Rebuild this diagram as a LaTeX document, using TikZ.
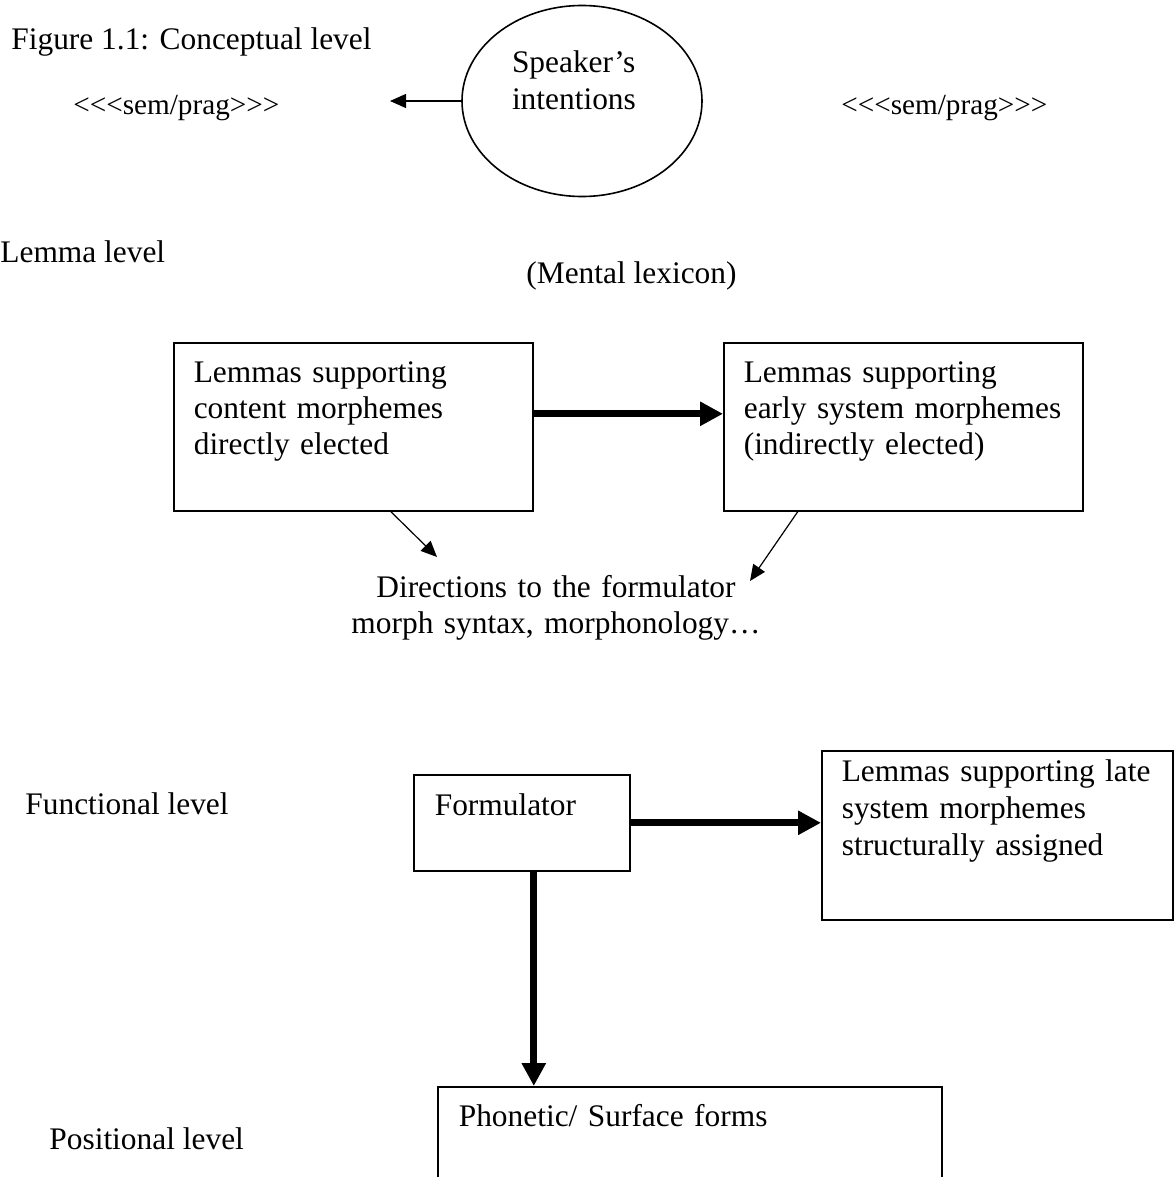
\documentclass[tikz,border=0pt]{standalone}
\usepackage{fontspec}
\setmainfont{Liberation Serif}[Ligatures=TeXOff]
\usetikzlibrary{arrows.meta,positioning,shapes.geometric}

\tikzset{
  lembox/.style={draw, line width=0.8pt, rectangle, anchor=north west, align=left, inner ysep=0pt, inner xsep=10pt},
  bigarrow/.style={line width=3.5pt, -{Triangle[length=11.5pt,width=11.5pt]}},
  smallarrow/.style={line width=0.6pt, -{Triangle[length=8pt,width=7pt]}},
  lbl/.style={inner sep=0pt, anchor=base west}
}

\begin{document}
\begin{tikzpicture}[x=0.5pt, y=-0.5pt, font=\fontsize{15.7}{18}\selectfont]
  \useasboundingbox (0,0) rectangle (1173,1177);
  % conceptual level
  \node[lbl] (cap) at (11,50) {Figure 1.1: Conceptual level};
  \node[ellipse, draw, line width=0.8pt, minimum width=120pt, minimum height=95.5pt, inner sep=1pt,
        text width=70pt, align=left, text height=12pt, text depth=40pt,
        font=\fontsize{15.7}{18.5}\selectfont] (spk) at (582,101) {Speaker’s\\intentions};
  \begin{scope}[every node/.style={lbl, font=\fontsize{14.6}{17}\selectfont}]
    \node (semL) at (73,115) {<<<sem/prag>>>};
    \node (semR) at (841,115) {<<<sem/prag>>>};
  \end{scope}
  \coordinate (semTip) at (390,101);
  \draw[smallarrow] (spk) -- (semTip);

  % lemma level
  \node[lbl] (lemlvl) at (0,262) {Lemma level};
  \node[lbl] (lex) at (526,283) {(Mental lexicon)};
  \begin{scope}[every node/.append style={text width=159.5pt, text height=20pt, text depth=64pt}]
    \node[lembox] (lemC) at (173,342) {Lemmas supporting\\content morphemes\\directly elected};
    \node[lembox] (lemE) at (723,342) {Lemmas supporting\\\mbox{early system morphemes}\\(indirectly elected)};
  \end{scope}
  \draw[bigarrow] ([yshift=6.5pt]lemC.east) -- ([yshift=6.5pt]lemE.west);

  \node[text width=220pt, align=center, anchor=base, inner sep=0pt] (dir) at (556,597)
       {Directions to the formulator\\morph syntax, morphonology…};
  \coordinate (dirL) at (437,557);
  \coordinate (dirR) at (750,581);
  \draw[smallarrow] ([xshift=18.75pt]lemC.south) -- (dirL);
  \draw[smallarrow] ([xshift=-52.75pt]lemE.south) -- (dirR);

  % functional level
  \node[lbl] (funlvl) at (25,814) {Functional level};
  \node[lembox, inner xsep=10.5pt, text width=87pt, text height=20.5pt, text depth=27.5pt] (form) at (413,774) {Formulator};
  \node[lembox, text width=155.5pt, text height=15.5pt, text depth=69pt,
        font=\fontsize{15.7}{18.5}\selectfont] (late) at (821,750)
       {\mbox{Lemmas supporting late}\\system morphemes\\structurally assigned};
  \draw[bigarrow] (form.east) -- (form.east -| late.west);

  % positional level
  \node[lbl] (poslvl) at (49,1149) {Positional level};
  \node[lembox, inner xsep=10.5pt, text width=231pt, text height=20pt, text depth=40pt] (phon) at (437,1086) {Phonetic/ Surface forms};
  \draw[bigarrow] ([xshift=6pt]form.south) -- ([xshift=6pt]form.south |- phon.north);
\end{tikzpicture}
\end{document}
